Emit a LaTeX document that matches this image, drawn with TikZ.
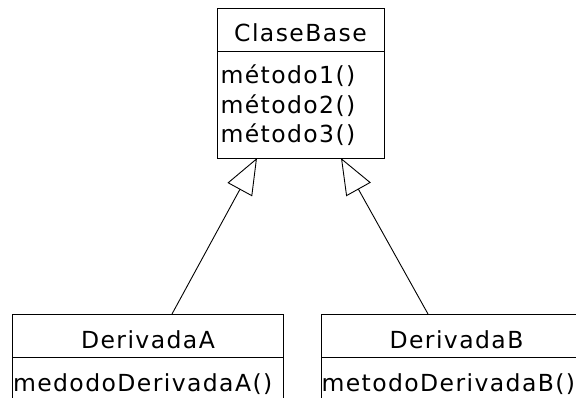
\documentclass[tikz,border=0pt]{standalone}
\usepackage{fontspec}
\setmainfont{DejaVu Sans}[LetterSpace=6]
\usetikzlibrary{arrows.meta}
\begin{document}
\begin{tikzpicture}[x=1pt,y=-1pt,
  box/.style={draw=black, line width=1pt, inner sep=0pt, outer sep=0pt, fill=none},
  sep/.style={draw=black, line width=1pt},
  txt/.style={inner sep=0pt, outer sep=0pt, font=\fontsize{23.5}{28}\selectfont, text=black},
  inherit/.style={draw=black, line width=0.9pt, -{Triangle[open, length=36pt, width=28pt, fill=white]}}]
\useasboundingbox (0,0) rectangle (576,397);
% base class
\node[box, minimum width=167pt, minimum height=150pt, anchor=north west] (base) at (217,8) {};
\draw[sep] (217,51) -- (384,51);
\node[txt, anchor=base] (baseT) at (300.5,41) {ClaseBase};
\node[txt, anchor=base west] (m1) at (220.5,83) {método1()};
\node[txt, anchor=base west] (m2) at (220.5,113) {método2()};
\node[txt, anchor=base west] (m3) at (220.5,142.5) {método3()};
% derived A
\node[box, minimum width=271pt, minimum height=100pt, anchor=north west] (derA) at (12,314) {};
\draw[sep] (12,357) -- (283,357);
\node[txt, anchor=base] (derAT) at (148,348) {DerivadaA};
\node[txt, anchor=base west] (derAM) at (13,391) {medodoDerivadaA()};
% derived B
\node[box, minimum width=270pt, minimum height=100pt, anchor=north west] (derB) at (321,314) {};
\draw[sep] (321,357) -- (600,357);
\node[txt, anchor=base] (derBT) at (456.5,348) {DerivadaB};
\node[txt, anchor=base west] (derBM) at (321.5,391) {metodoDerivadaB()};
% inheritance
\draw[inherit] ([xshift=160pt]derA.north west) -- ([xshift=40pt]base.south west);
\draw[inherit] ([xshift=107pt]derB.north west) -- ([xshift=124pt]base.south west);
\end{tikzpicture}
\end{document}
